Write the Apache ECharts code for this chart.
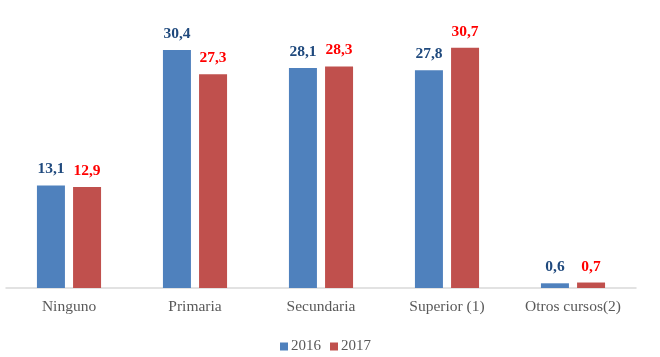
<!DOCTYPE html>
<html><head><meta charset="utf-8">
<script src="https://cdn.jsdelivr.net/npm/echarts@6/dist/echarts.min.js"></script>
<style>html,body{margin:0;padding:0;background:#fff}#c{width:660px;height:357px}</style>
</head><body><div id="c"></div>
<script>
const categories = ['Ninguno','Primaria','Secundaria','Superior (1)','Otros cursos(2)'];
const values2016 = [13.1, 30.4, 28.1, 27.8, 0.6];
const values2017 = [12.9, 27.3, 28.3, 30.7, 0.7];
const seriesNames = ['2016','2017'];
const fmt = p => p.value.toFixed(1).replace('.', ',');
const font = '"Liberation Serif","Times New Roman",serif';
const chart = echarts.init(document.getElementById('c'));
chart.setOption({
  animation:false,
  textStyle:{fontFamily:font},
  grid:{left:6,right:24,top:14,bottom:69},
  legend:{top:334,left:275,itemWidth:8,itemHeight:8,itemGap:9,icon:'rect',
    textStyle:{fontFamily:font,fontSize:15,color:'#595959',padding:[0,0,0,-2]}},
  xAxis:{type:'category',data:categories,
    axisLine:{lineStyle:{color:'#D9D9D9',width:1.5}},axisTick:{show:false},
    axisLabel:{interval:0,hideOverlap:false,fontFamily:font,fontSize:15.5,color:'#595959',margin:11}},
  yAxis:{type:'value',min:0,max:35,show:false,splitLine:{show:false}},
  series:[
    {name:seriesNames[0],type:'bar',data:values2016,barWidth:28,barGap:'29%',
     itemStyle:{color:'#4F81BD'},
     label:{show:true,position:'top',distance:8,formatter:fmt,fontFamily:font,fontSize:15.5,fontWeight:'bold',color:'#1F497D'}},
    {name:seriesNames[1],type:'bar',data:values2017,barWidth:28,
     itemStyle:{color:'#C0504D'},
     label:{show:true,position:'top',distance:8,formatter:fmt,fontFamily:font,fontSize:15.5,fontWeight:'bold',color:'#FF0000'}}
  ]
});
</script></body></html>
